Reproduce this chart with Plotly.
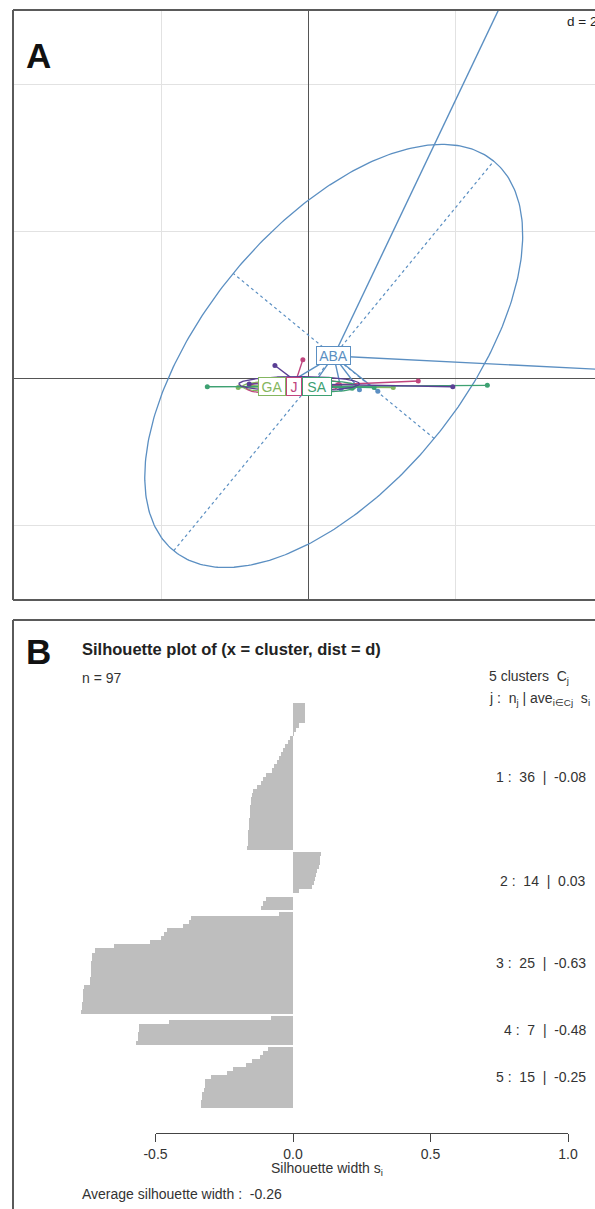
import numpy as np
import plotly.graph_objects as go

W, H = 595, 1209
FONT = "Liberation Sans, Arial, sans-serif"

# ---------------- Panel A data (ordination, s.class style) ----------------
group_names = ["ABA", "GA", "J", "SA", ""]
group_colors = ["#5b8fc2", "#84b660", "#c0457e", "#3ea172", "#5a3f94"]
centroid_x = [0.35, -0.49, -0.19, 0.12, -0.12]
centroid_y = [0.30, -0.115, -0.115, -0.115, -0.08]
points_x = [
    [2.85, 5.50, -0.25, 0.05, 0.45, 0.70, 0.95],
    [-0.95, -0.80, -0.65, 1.16],
    [-0.07, 1.50, -0.60, -0.35, 0.40],
    [2.44, -1.37, 0.60, 0.90],
    [-0.45, 1.97, -0.80, 0.30],
]
points_y = [
    [5.55, 0.04, -0.06, -0.12, -0.15, -0.16, -0.18],
    [-0.13, -0.10, -0.14, -0.13],
    [0.25, -0.04, -0.09, -0.13, -0.10],
    [-0.10, -0.12, -0.14, -0.13],
    [0.17, -0.12, -0.08, -0.12],
]
ellipse_a = [3.43, 0.40, 0.65, 0.55, 0.82]
ellipse_b = [1.77, 0.07, 0.10, 0.08, 0.10]
ellipse_angle = [50.6, 0.0, 2.0, 0.0, 0.0]
label_box_w = [35, 28, 16, 30, 0]   # label box widths (px), style only

# ---------------- Panel B data (silhouette widths) ----------------
sil_c1 = [0.045, 0.045, 0.044, 0.043, 0.042, 0.020, 0.012, 0.003, -0.010, -0.020,
          -0.030, -0.037, -0.045, -0.050, -0.060, -0.070, -0.078, -0.100, -0.108, -0.115,
          -0.130, -0.145, -0.150, -0.152, -0.154, -0.155, -0.156, -0.158, -0.159, -0.160,
          -0.161, -0.162, -0.163, -0.164, -0.165, -0.167]
sil_c2 = [0.100, 0.098, 0.097, 0.095, 0.088, 0.085, 0.080, 0.075, 0.070, 0.020,
          0.000, -0.100, -0.110, -0.115]
sil_c3 = [-0.05, -0.37, -0.38, -0.40, -0.46, -0.47, -0.48, -0.52, -0.65, -0.72,
          -0.730, -0.732, -0.734, -0.735, -0.735, -0.736, -0.738, -0.740,
          -0.760, -0.762, -0.764, -0.765, -0.766, -0.768, -0.770]
sil_c4 = [-0.08, -0.45, -0.56, -0.56, -0.565, -0.565, -0.57]
sil_c5 = [-0.09, -0.11, -0.12, -0.15, -0.17, -0.22, -0.24, -0.30, -0.32, -0.32,
          -0.325, -0.33, -0.33, -0.335, -0.335]
cluster_values = [sil_c1, sil_c2, sil_c3, sil_c4, sil_c5]
cluster_n = [36, 14, 25, 7, 15]
cluster_avg = ["-0.08", "0.03", "-0.63", "-0.48", "-0.25"]
avg_width = "-0.26"
n_total = 97
sil_ticks = [-0.5, 0.0, 0.5, 1.0]
sil_tick_labels = ["-0.5", "0.0", "0.5", "1.0"]


def py(px):
    return 1 - px / H


def pxx(px):
    return px / W


fig = go.Figure()

# ---- Panel A traces ----
for g in range(len(group_names)):
    col = group_colors[g]
    cx, cy = centroid_x[g], centroid_y[g]
    t = np.linspace(0, 2 * np.pi, 361)
    th = np.deg2rad(ellipse_angle[g])
    ex = cx + ellipse_a[g] * np.cos(t) * np.cos(th) - ellipse_b[g] * np.sin(t) * np.sin(th)
    ey = cy + ellipse_a[g] * np.cos(t) * np.sin(th) + ellipse_b[g] * np.sin(t) * np.cos(th)
    fig.add_trace(go.Scatter(x=ex, y=ey, mode="lines", line=dict(color=col, width=1.3),
                             xaxis="x", yaxis="y", hoverinfo="skip"))
    if g == 0:
        ax = [cx - ellipse_a[g] * np.cos(th), cx + ellipse_a[g] * np.cos(th)]
        ay = [cy - ellipse_a[g] * np.sin(th), cy + ellipse_a[g] * np.sin(th)]
        bx = [cx + ellipse_b[g] * np.sin(th), cx - ellipse_b[g] * np.sin(th)]
        by = [cy - ellipse_b[g] * np.cos(th), cy + ellipse_b[g] * np.cos(th)]
        for lx, ly in ((ax, ay), (bx, by)):
            fig.add_trace(go.Scatter(x=lx, y=ly, mode="lines",
                                     line=dict(color=col, width=1.2, dash="3px,3px"),
                                     xaxis="x", yaxis="y", hoverinfo="skip"))
    sx, sy = [], []
    for x, y in zip(points_x[g], points_y[g]):
        sx += [cx, x, None]
        sy += [cy, y, None]
    fig.add_trace(go.Scatter(x=sx, y=sy, mode="lines", line=dict(color=col, width=1.4),
                             xaxis="x", yaxis="y", hoverinfo="skip"))
    fig.add_trace(go.Scatter(x=points_x[g], y=points_y[g], mode="markers",
                             marker=dict(color=col, size=5),
                             xaxis="x", yaxis="y", hoverinfo="skip"))

annotations = []
for g in range(len(group_names)):
    if group_names[g]:
        annotations.append(dict(
            x=centroid_x[g], y=centroid_y[g], xref="x", yref="y", text=group_names[g],
            showarrow=False, font=dict(family=FONT, size=14, color=group_colors[g]),
            bgcolor="white", bordercolor=group_colors[g], borderwidth=1, borderpad=0,
            width=label_box_w[g] - 2, height=17, align="center"))

# ---- Panel B traces ----
bar_x, bar_y, mids = [], [], []
offset = 0.0
for k, vals in enumerate(cluster_values):
    pos = [offset + i + 0.5 for i in range(len(vals))]
    bar_x += vals
    bar_y += pos
    mids.append(offset + len(vals) / 2)
    offset += len(vals) + 0.5
total_units = offset - 0.5

fig.add_trace(go.Bar(x=bar_x, y=bar_y, orientation="h", width=1.0,
                     marker=dict(color="#bebebe", line=dict(width=0)),
                     xaxis="x2", yaxis="y2", hoverinfo="skip"))
fig.add_trace(go.Scatter(x=[None], y=[None], xaxis="x3", yaxis="y2", mode="markers",
                         hoverinfo="skip"))

TXT = 14
for k in range(len(cluster_values)):
    annotations.append(dict(
        x=pxx(588), y=mids[k], xref="paper", yref="y2", xanchor="right",
        text=f"{k + 1} :  {cluster_n[k]}  |  {cluster_avg[k]}", showarrow=False,
        font=dict(family=FONT, size=TXT, color="#333")))

txt = [
    (38, 56, "<b>A</b>", 35, "center", "#111"),
    (565, 21, "d = 2", 13.5, "left", "#222"),
    (38, 651, "<b>B</b>", 35, "center", "#111"),
    (80, 649, "<b>Silhouette plot of (x = cluster, dist = d)</b>", 16.5, "left", "#222"),
    (80, 678, f"n = {n_total}", TXT, "left", "#333"),
    (487, 677, "5 clusters  C<sub>j</sub>", TXT, "left", "#333"),
    (487, 699, "j :  n<sub>j</sub> | ave<sub>i∈Cj</sub>  s<sub>i</sub>", TXT, "left", "#333"),
    (327, 1169, "Silhouette width s<sub>i</sub>", TXT, "center", "#333"),
    (80, 1194, f"Average silhouette width :  {avg_width}", TXT, "left", "#333"),
]
for x, y, t, s, anc, c in txt:
    annotations.append(dict(x=pxx(x), y=py(y), xref="paper", yref="paper", text=t,
                            showarrow=False, xanchor=anc, yanchor="middle",
                            font=dict(family=FONT, size=s, color=c)))

bc = "#5a5a5a"
shapes = [
    dict(type="line", xref="paper", yref="paper", x0=pxx(13), x1=1.02, y0=py(10), y1=py(10), line=dict(color=bc, width=2)),
    dict(type="line", xref="paper", yref="paper", x0=pxx(13), x1=pxx(13), y0=py(10), y1=py(600), line=dict(color=bc, width=2)),
    dict(type="line", xref="paper", yref="paper", x0=pxx(13), x1=1.02, y0=py(600), y1=py(600), line=dict(color=bc, width=2)),
    dict(type="line", xref="paper", yref="paper", x0=pxx(13), x1=1.02, y0=py(620), y1=py(620), line=dict(color=bc, width=2)),
    dict(type="line", xref="paper", yref="paper", x0=pxx(13), x1=pxx(13), y0=py(620), y1=-0.01, line=dict(color=bc, width=2)),
]

ax_x0, ax_px_per = 308, 73.5
ay_0 = 378
sx0, s_px = 293, 275.0

fig.update_layout(
    template="none",
    width=W, height=H, margin=dict(l=0, r=0, t=0, b=0, pad=0, autoexpand=False),
    paper_bgcolor="white", plot_bgcolor="rgba(0,0,0,0)", showlegend=False,
    xaxis=dict(domain=[pxx(13), 1], range=[(13 - ax_x0) / ax_px_per, (W - ax_x0) / ax_px_per],
               tickvals=[-4, -2, 2, 4], showticklabels=False, ticks="", showgrid=True,
               gridcolor="#e2e2e2", gridwidth=1, zeroline=True, zerolinecolor="#555",
               zerolinewidth=1.4, showline=False, anchor="y", fixedrange=True, automargin=False),
    yaxis=dict(domain=[py(600), py(10)], range=[(ay_0 - 600) / ax_px_per, (ay_0 - 10) / ax_px_per],
               tickvals=[-2, 2, 4], showticklabels=False, ticks="", showgrid=True,
               gridcolor="#e2e2e2", gridwidth=1, zeroline=True, zerolinecolor="#555",
               zerolinewidth=1.4, showline=False, anchor="x", fixedrange=True, automargin=False),
    xaxis2=dict(domain=[pxx(13), 1], range=[(13 - sx0) / s_px, (W - sx0) / s_px],
                visible=False, anchor="y2", fixedrange=True, automargin=False),
    yaxis2=dict(domain=[py(1108), py(703)], range=[total_units, 0], visible=False,
                anchor="x2", fixedrange=True, automargin=False),
    xaxis3=dict(domain=[pxx(sx0 - 0.5 * s_px), pxx(sx0 + 1.0 * s_px)], range=[-0.5, 1.0],
                anchor="free", position=py(1133), showline=True, linecolor="#444",
                linewidth=1, ticks="outside", ticklen=8, tickcolor="#444", tickwidth=1,
                tickvals=sil_ticks, ticktext=sil_tick_labels, showgrid=False, zeroline=False,
                tickfont=dict(family=FONT, size=TXT, color="#333"), fixedrange=True,
                automargin=False),
    annotations=annotations,
    shapes=shapes,
    bargap=0,
)

fig.write_html(
    "out.html",
    config={"responsive": False, "displayModeBar": False},
    post_script="document.body.style.margin='0';document.body.style.overflow='hidden';",
)
